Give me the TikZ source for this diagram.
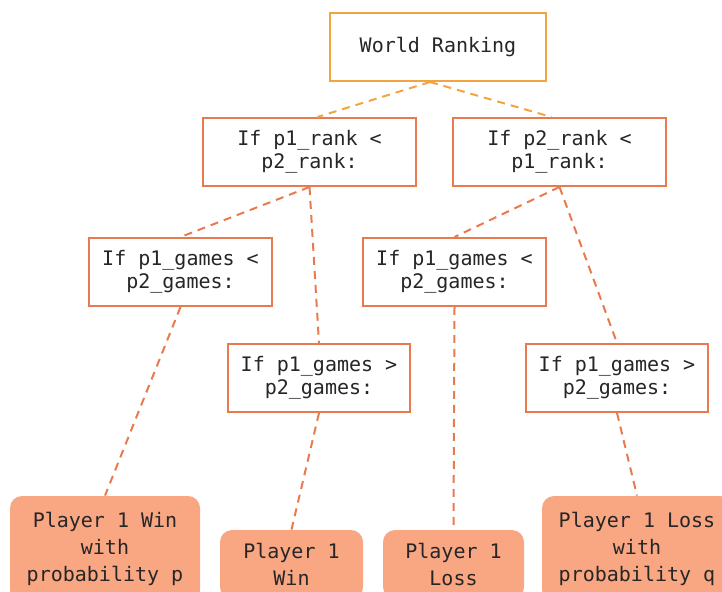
\documentclass[tikz,border=0pt]{standalone}
\usepackage{fontspec}
\setmonofont{DejaVu Sans Mono}
\usetikzlibrary{positioning}
\definecolor{rootorange}{RGB}{243,163,64}
\definecolor{boxred}{RGB}{233,122,78}
\definecolor{leaffill}{RGB}{249,166,130}
\definecolor{txtgray}{RGB}{38,38,38}
\tikzset{
    % Root of the tree
    rootbox/.style={rectangle, draw=rootorange, line width=1pt, fill=white,
                minimum width=108pt, minimum height=34pt, align=center,
                font=\ttfamily\fontsize{10}{11.5}\selectfont, text=txtgray},
    % Conditions
    condbox/.style={rectangle, draw=boxred, line width=1pt, fill=white,
                minimum width=#1, minimum height=34pt, align=center,
                font=\ttfamily\fontsize{10}{11.5}\selectfont, text=txtgray},
    % Outcomes
    leafbox/.style={rectangle, rounded corners=6pt, draw=none, fill=leaffill,
                minimum width=#1, align=center,
                font=\ttfamily\fontsize{10}{13.5}\selectfont, text=txtgray},
    % Links
    toplink/.style={dashed, dash pattern=on 4pt off 3pt, line width=1pt, rootorange},
    link/.style={dashed, dash pattern=on 4pt off 3pt, line width=1pt, boxred},
}
\begin{document}
\begin{tikzpicture}[x=0.5pt, y=-0.5pt]
\useasboundingbox (0,0) rectangle (722,592);

\node[rootbox] (world) at (438,47) {World Ranking};

\node[condbox=106.5pt] (rank1) at (309.5,152) {If p1\_rank <\\p2\_rank:};
\node[condbox=106.5pt] (rank2) at (559.5,152) {If p2\_rank <\\p1\_rank:};

\node[condbox=91.5pt] (lessL)  at (180.5,272) {If p1\_games <\\p2\_games:};
\node[condbox=91.5pt] (lessR)  at (454.5,272) {If p1\_games <\\p2\_games:};
\node[condbox=91pt]   (moreL)  at (319,378)   {If p1\_games >\\p2\_games:};
\node[condbox=91pt]   (moreR)  at (617,378)   {If p1\_games >\\p2\_games:};

\node[leafbox=95pt, minimum height=53pt]   (winp)  at (105,549)   {Player 1 Win\\with\\probability p};
\node[leafbox=71.5pt, minimum height=34.5pt] (win)   at (291.5,564.5) {Player 1\\Win};
\node[leafbox=70.5pt, minimum height=34.5pt] (loss)  at (453.5,564.5) {Player 1\\Loss};
\node[leafbox=95pt, minimum height=53pt]   (lossq) at (637,549)   {Player 1 Loss\\with\\probability q};

\draw[toplink] ([xshift=-4pt]world.south) -- ([xshift=4pt]rank1.north);
\draw[toplink] ([xshift=-4pt]world.south) -- ([xshift=-4pt]rank2.north);

\draw[link] (rank1.south) -- (lessL.north);
\draw[link] (rank1.south) -- (moreL.north);
\draw[link] (rank2.south) -- (lessR.north);
\draw[link] (rank2.south) -- (moreR.north);

\draw[link] (lessL.south) -- (winp.north);
\draw[link] (moreL.south) -- (win.north);
\draw[link] (lessR.south) -- (loss.north);
\draw[link] (moreR.south) -- (lossq.north);
\end{tikzpicture}
\end{document}
